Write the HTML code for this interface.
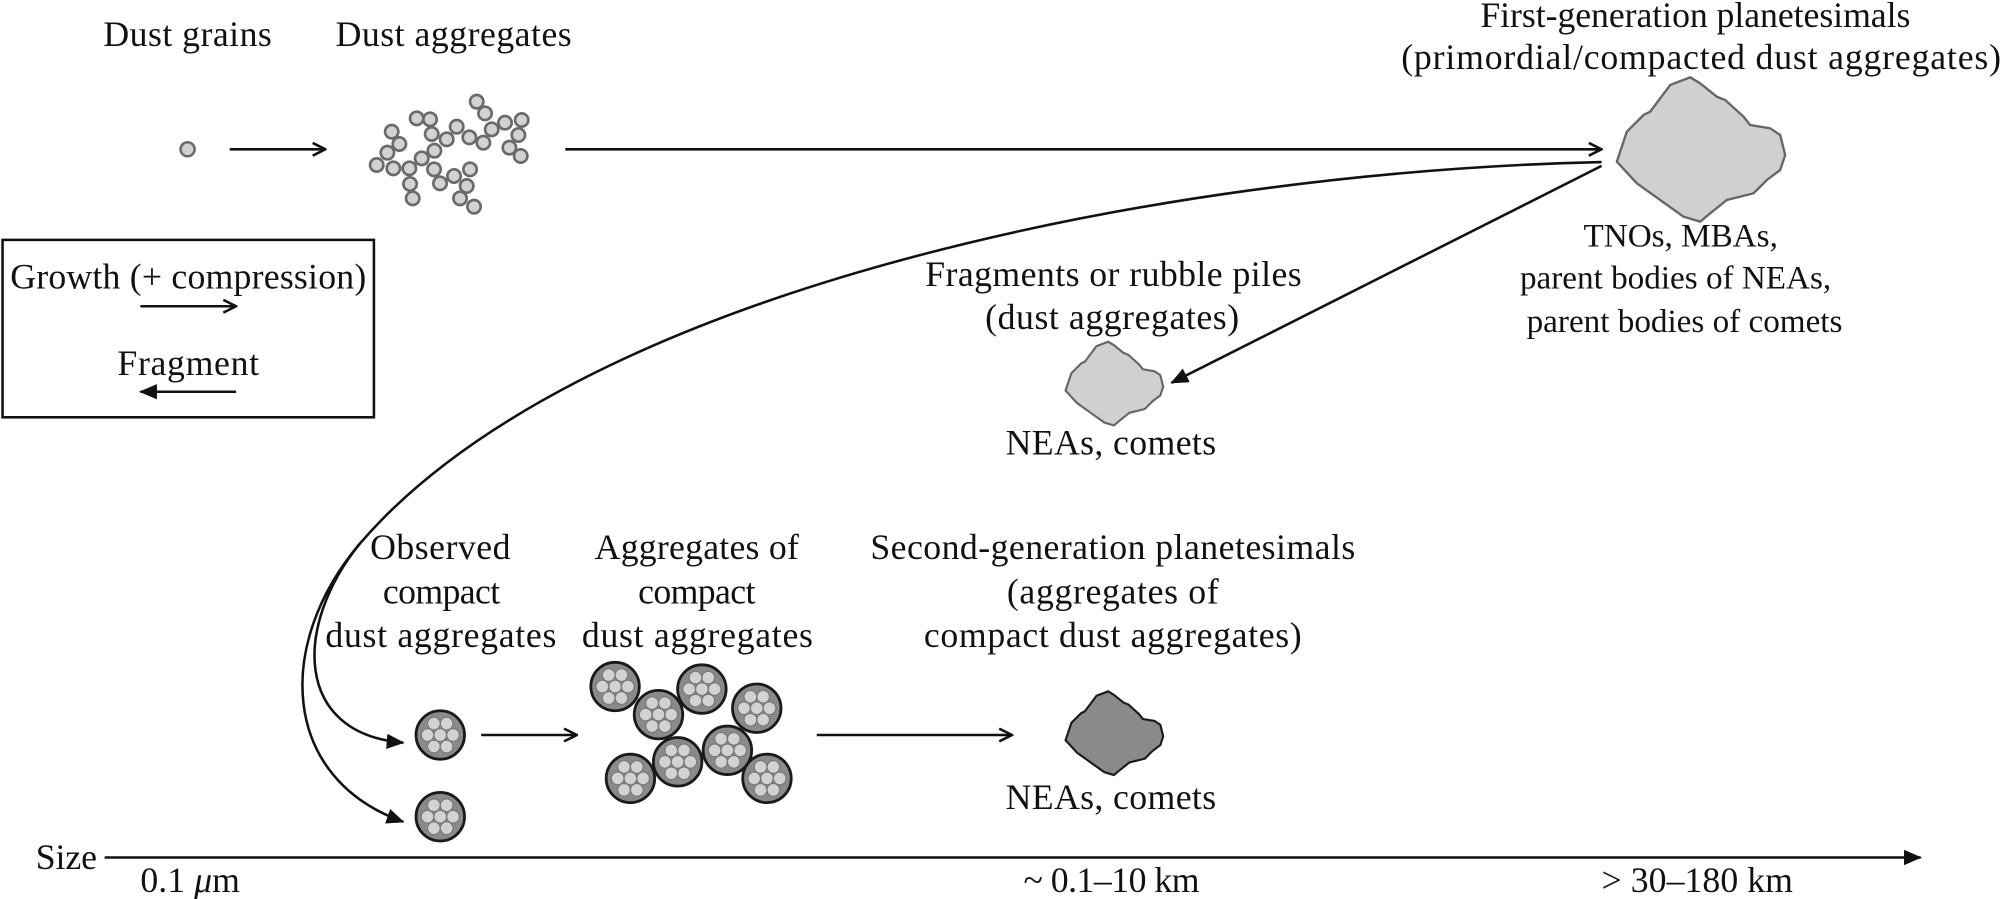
<!DOCTYPE html>
<html><head><meta charset="utf-8"><style>html,body{margin:0;padding:0;background:#fff}svg{display:block}</style></head>
<body>
<svg width="2001" height="899" viewBox="0 0 1568 704.5" preserveAspectRatio="none" xmlns="http://www.w3.org/2000/svg" font-family="'Liberation Serif', serif" font-size="28" fill="#111">
<defs>
<marker id="open" viewBox="0 0 12 12" refX="11" refY="6" markerWidth="12" markerHeight="12" markerUnits="userSpaceOnUse" orient="auto"><path d="M1,1 L11,6 L1,11" fill="none" stroke="#111" stroke-width="2"/></marker>
<marker id="fill" viewBox="0 0 14 12" refX="13" refY="6" markerWidth="14" markerHeight="12" markerUnits="userSpaceOnUse" orient="auto"><path d="M0,0 L14,6 L0,12 Z" fill="#111"/></marker>
<g id="ca">
<circle r="19" fill="#8a8a8a" stroke="#1a1a1a" stroke-width="2.2"/>
<g fill="#d2d2d2" stroke="#7a7a7a" stroke-width="1">
<circle cx="0" cy="0" r="5"/><circle cx="-5" cy="-9" r="5"/><circle cx="5" cy="-9" r="5"/><circle cx="-10" cy="0" r="5"/><circle cx="10" cy="0" r="5"/><circle cx="-5" cy="9" r="5"/><circle cx="5" cy="9" r="5"/></g>
</g>
<path id="blob" transform="scale(0.7837) translate(1600,60) scale(0.3333)" d="M50,305 L80,215 L130,165 L150,155 L210,75 L270,52 L300,70 L350,110 L375,120 L430,170 L450,195 L510,205 L540,225 L555,285 L540,330 L500,360 L460,400 L420,410 L380,420 L330,460 L300,485 L250,470 L180,420 L110,370 Z"/>
</defs>

<g lengthAdjust="spacingAndGlyphs">
<text x="81" y="36" textLength="132">Dust grains</text>
<text x="263" y="36" textLength="185">Dust aggregates</text>
<text x="1160" y="21" textLength="337">First-generation planetesimals</text>
<text x="1098" y="54" textLength="470">(primordial/compacted dust aggregates)</text>
<text x="1317" y="193" text-anchor="middle" font-size="26">TNOs, MBAs,</text>
<text x="1313" y="226" text-anchor="middle" font-size="26">parent bodies of NEAs,</text>
<text x="1320" y="260" text-anchor="middle" font-size="26">parent bodies of comets</text>
<text x="8" y="226" textLength="279">Growth (+ compression)</text>
<text x="92" y="294" textLength="111">Fragment</text>
<text x="725" y="224" textLength="295">Fragments or rubble piles</text>
<text x="772" y="258" textLength="199">(dust aggregates)</text>
<text x="788" y="356" textLength="165">NEAs, comets</text>
<text x="290" y="438" textLength="110">Observed</text>
<text x="300" y="473" textLength="92">compact</text>
<text x="255" y="507" textLength="181">dust aggregates</text>
<text x="466" y="438" textLength="160">Aggregates of</text>
<text x="500" y="473" textLength="92">compact</text>
<text x="456" y="507" textLength="181">dust aggregates</text>
<text x="682" y="438" textLength="380">Second-generation planetesimals</text>
<text x="789" y="473" textLength="166">(aggregates of</text>
<text x="724" y="507" textLength="296">compact dust aggregates)</text>
<text x="788" y="634" textLength="165">NEAs, comets</text>
<text x="802" y="699" textLength="138">~ 0.1–10 km</text>
<text x="1255" y="699" textLength="150">&gt; 30–180 km</text>
<text x="28" y="681" textLength="48">Size</text>
<text x="110" y="699" textLength="78">0.1 <tspan font-style="italic">μ</tspan>m</text>
</g>

<circle cx="147" cy="117" r="5.5" fill="#cfcfcf" stroke="#6a6a6a" stroke-width="2"/>
<g stroke="#111" stroke-width="2" fill="none">
<line x1="180" y1="117" x2="255" y2="117" marker-end="url(#open)"/>
<line x1="443" y1="117" x2="1255" y2="117" marker-end="url(#open)"/>
<line x1="110" y1="240" x2="185" y2="240" marker-end="url(#open)"/>
<line x1="185" y1="307" x2="110" y2="307" marker-end="url(#fill)"/>
<line x1="1255" y1="130" x2="918" y2="300" marker-end="url(#fill)"/>
<path d="M1255,127 C900,135 450,230 282,426"/>
<path d="M282,426 C230,490 230,575 316,582" marker-end="url(#fill)"/>
<path d="M282,426 C215,505 220,610 316,644" marker-end="url(#fill)"/>
<line x1="377" y1="576" x2="452" y2="576" marker-end="url(#open)"/>
<line x1="640" y1="576" x2="793" y2="576" marker-end="url(#open)"/>
<line x1="82" y1="672" x2="1505" y2="672" marker-end="url(#fill)"/>
</g>
<rect x="2" y="188" width="291" height="139" fill="none" stroke="#111" stroke-width="2"/>

<g transform="scale(0.7837) translate(350,80) scale(0.3333)" fill="#d2d2d2" stroke="#6a6a6a" stroke-width="8">
<circle cx="380" cy="65" r="20"/><circle cx="405" cy="100" r="20"/><circle cx="425" cy="148" r="20"/><circle cx="465" cy="128" r="20"/><circle cx="515" cy="120" r="20"/><circle cx="505" cy="165" r="20"/><circle cx="478" cy="203" r="20"/><circle cx="512" cy="228" r="20"/><circle cx="400" cy="188" r="20"/><circle cx="358" cy="172" r="20"/><circle cx="320" cy="140" r="20"/><circle cx="290" cy="178" r="20"/><circle cx="253" cy="212" r="20"/><circle cx="245" cy="162" r="20"/><circle cx="240" cy="118" r="20"/><circle cx="200" cy="115" r="20"/><circle cx="148" cy="192" r="20"/><circle cx="125" cy="155" r="20"/><circle cx="112" cy="218" r="20"/><circle cx="80" cy="255" r="20"/><circle cx="130" cy="265" r="20"/><circle cx="178" cy="265" r="20"/><circle cx="215" cy="235" r="20"/><circle cx="180" cy="312" r="20"/><circle cx="188" cy="355" r="20"/><circle cx="252" cy="268" r="20"/><circle cx="270" cy="310" r="20"/><circle cx="312" cy="288" r="20"/><circle cx="350" cy="318" r="20"/><circle cx="360" cy="268" r="20"/><circle cx="330" cy="355" r="20"/><circle cx="372" cy="380" r="20"/>
</g>

<use href="#blob" fill="#d0d0d0" stroke="#666" stroke-width="7"/>
<g transform="translate(835,268) scale(0.58) translate(-1267,-61)"><use href="#blob" fill="#d0d0d0" stroke="#666" stroke-width="11"/></g>
<g transform="translate(835,542) scale(0.58) translate(-1267,-61)"><use href="#blob" fill="#8a8a8a" stroke="#1a1a1a" stroke-width="11"/></g>

<use href="#ca" x="345" y="576"/>
<use href="#ca" x="345" y="640"/>
<use href="#ca" x="482" y="538"/>
<use href="#ca" x="550" y="540"/>
<use href="#ca" x="593" y="555"/>
<use href="#ca" x="516" y="560"/>
<use href="#ca" x="570" y="588"/>
<use href="#ca" x="494" y="610"/>
<use href="#ca" x="531" y="597"/>
<use href="#ca" x="601" y="610"/>
</svg>
</body></html>
